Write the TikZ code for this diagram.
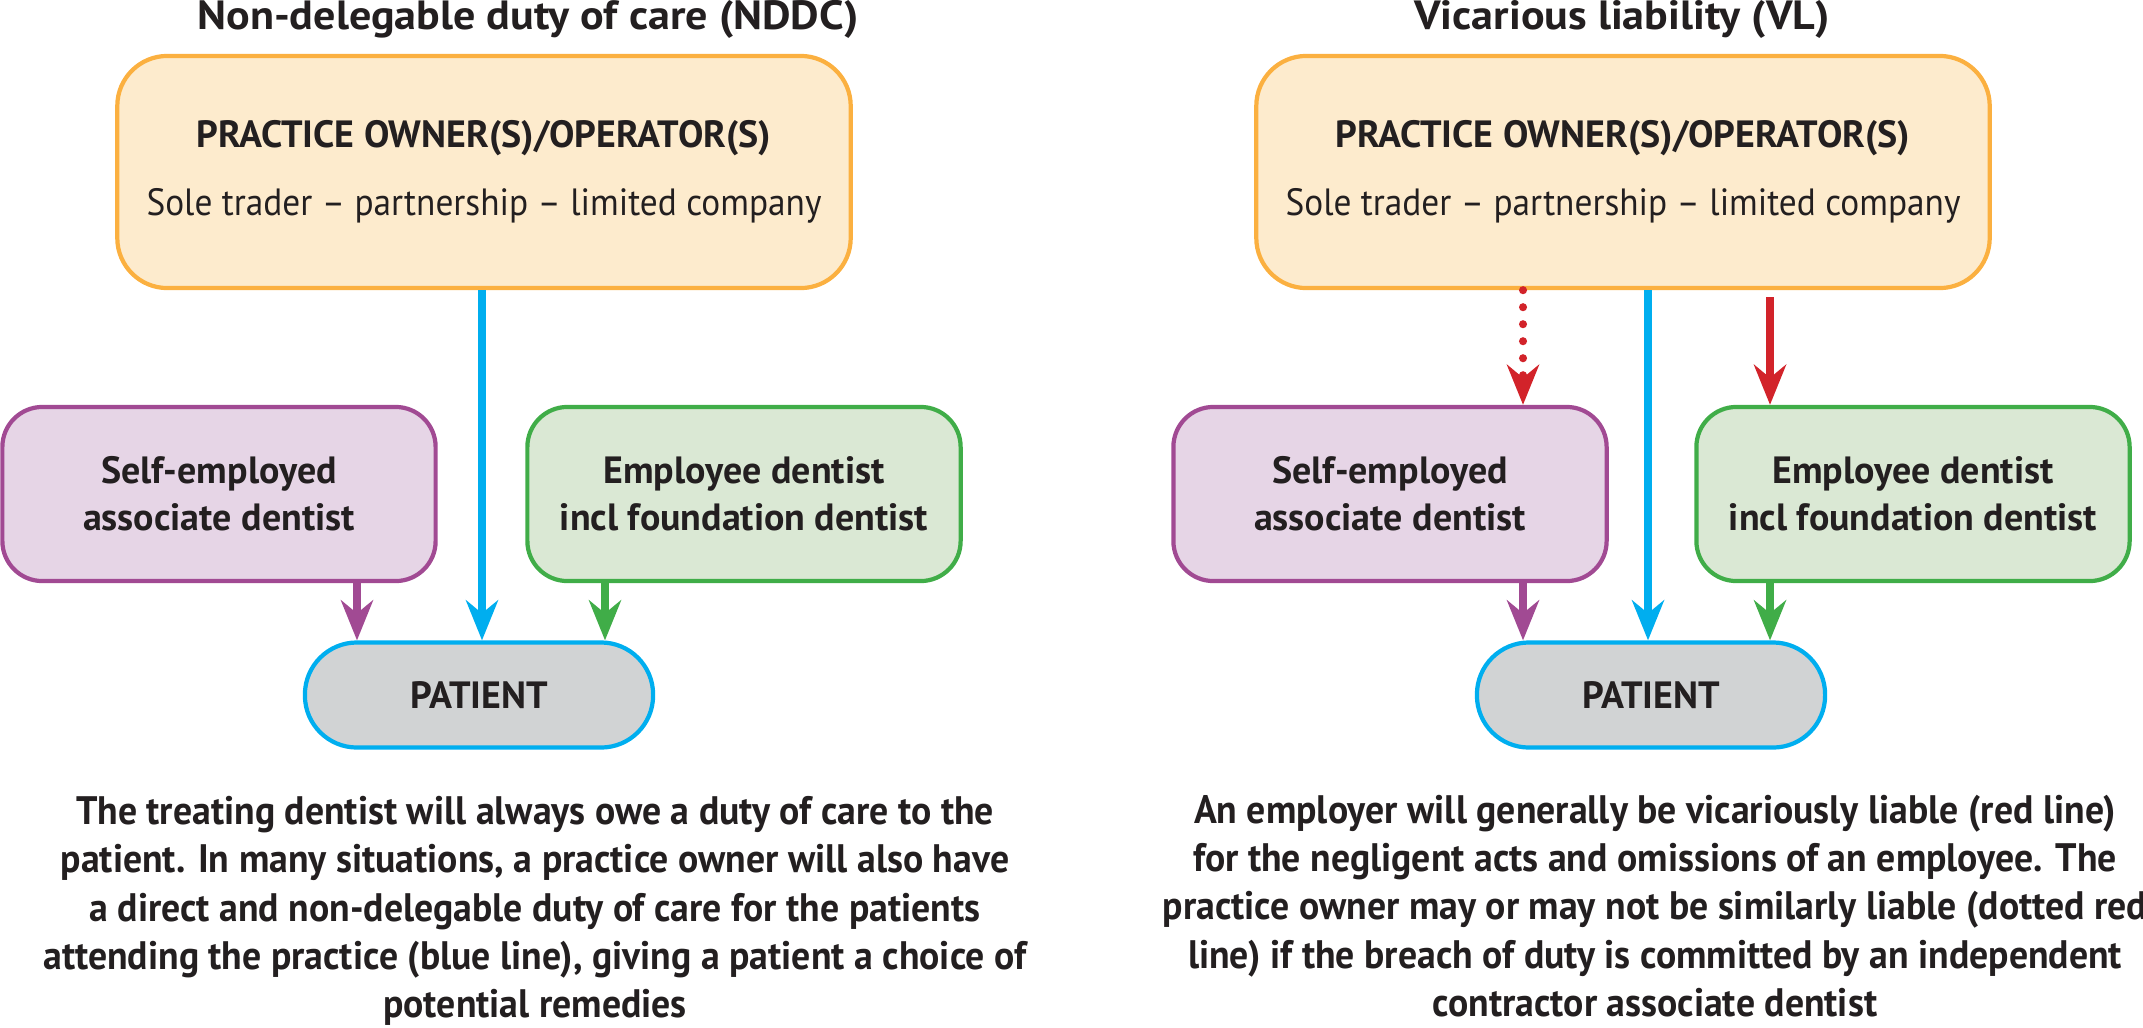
\documentclass[tikz,border=0pt]{standalone}
\usepackage{fontspec}
\setmainfont{PT Sans}
\newfontfamily\narrowfont[FakeStretch=0.95]{PT Sans}
\newfontfamily\plainfont[FakeStretch=0.93]{PT Sans}
\newfontfamily\widefont[FakeStretch=1.08]{PT Sans}
\usetikzlibrary{arrows.meta}

\definecolor{ink}{HTML}{231F20}
\definecolor{ownerfill}{HTML}{FDEBCD}
\definecolor{ownerdraw}{HTML}{FBB040}
\definecolor{selffill}{HTML}{E6D5E6}
\definecolor{selfdraw}{HTML}{A14A93}
\definecolor{empfill}{HTML}{DAE8D4}
\definecolor{empdraw}{HTML}{40AD48}
\definecolor{patfill}{HTML}{D1D3D4}
\definecolor{cyanline}{HTML}{00AEEF}
\definecolor{redline}{HTML}{D2232A}

\begin{document}
\begin{tikzpicture}[x=0.01cm,y=-0.01cm] % NDDC and VL
\tikzset{%
  >={Stealth[length=4mm,width=3.2mm,inset=1.3mm]}, % arrow tips
  box/.style={draw,line width=1.2pt,align=center,inner sep=0pt,text=ink,
    font=\bfseries\fontsize{10.8}{13.3}\selectfont},
  owner box/.style={box,fill=ownerfill,draw=ownerdraw,minimum width=7.33cm,
    minimum height=2.32cm,rounded corners=0.5cm},
  self box/.style={box,fill=selffill,draw=selfdraw,minimum width=4.33cm,
    minimum height=1.74cm,rounded corners=0.4cm},
  emp box/.style={box,fill=empfill,draw=empdraw,minimum width=4.33cm,
    minimum height=1.74cm,rounded corners=0.4cm},
  patient box/.style={box,fill=patfill,draw=cyanline,minimum width=3.48cm,
    minimum height=1.05cm,rounded corners=0.52cm},
  link/.style={line width=2.3pt,->},
  dotted link/.style={link,line cap=round,dash pattern=on 0pt off 0.17cm},
  heading/.style={text=ink,font=\widefont\bfseries\fontsize{11.6}{13}\selectfont},
  note/.style={align=center,text=ink,inner sep=0pt,
    font=\narrowfont\bfseries\fontsize{11.3}{13.7}\selectfont}
}

\useasboundingbox (0,0) rectangle (2143,1027);

%% left panel: non-delegable duty of care

\node[heading] (titleL) at (528,19) {Non-delegable duty of care (NDDC)};
\node[owner box] (ownerL) at (484,172) {PRACTICE OWNER(S)/OPERATOR(S)\\[6.1pt]
  {\plainfont\mdseries Sole trader – partnership – limited company}};
\node[self box] (selfL) at (219,494) {Self-employed\\associate dentist};
\node[emp box] (empL) at (744,494) {Employee dentist\\incl foundation dentist};
\node[patient box] (patientL) at (479,695) {PATIENT};

\coordinate (xselfL) at (357,0);
\coordinate (xownerL) at (482,0);
\coordinate (xempL) at (605,0);

\draw[link,cyanline] (ownerL.south -| xownerL) -- (patientL.north -| xownerL);
\draw[link,selfdraw] (selfL.south -| xselfL) -- (patientL.north -| xselfL);
\draw[link,empdraw] (empL.south -| xempL) -- (patientL.north -| xempL);

\node[note] (noteL) at (535,911) {The treating dentist will always owe a duty of care to the\\
  patient. In many situations, a practice owner will also have\\
  a direct and non-delegable duty of care for the patients\\
  attending the practice (blue line), giving a patient a choice of\\
  potential remedies};

%% right panel: vicarious liability

\node[heading] (titleR) at (1622,19) {Vicarious liability (VL)};
\node[owner box] (ownerR) at (1623,172) {PRACTICE OWNER(S)/OPERATOR(S)\\[6.1pt]
  {\plainfont\mdseries Sole trader – partnership – limited company}};
\node[self box] (selfR) at (1390,494) {Self-employed\\associate dentist};
\node[emp box] (empR) at (1913,494) {Employee dentist\\incl foundation dentist};
\node[patient box] (patientR) at (1651,695) {PATIENT};

\coordinate (xselfR) at (1523,0);
\coordinate (xownerR) at (1648,0);
\coordinate (xempR) at (1770,0);

\draw[dotted link,redline] (ownerR.south -| xselfR) -- (selfR.north -| xselfR);
\draw[link,redline,shorten <=0.07cm] (ownerR.south -| xempR) -- (empR.north -| xempR);
\draw[link,cyanline] (ownerR.south -| xownerR) -- (patientR.north -| xownerR);
\draw[link,selfdraw] (selfR.south -| xselfR) -- (patientR.north -| xselfR);
\draw[link,empdraw] (empR.south -| xempR) -- (patientR.north -| xempR);

\node[note] (noteR) at (1655,906) {An employer will generally be vicariously liable (red line)\\
  for the negligent acts and omissions of an employee. The\\
  practice owner may or may not be similarly liable (dotted red\\
  line) if the breach of duty is committed by an independent\\
  contractor associate dentist};
\end{tikzpicture}
\end{document}
